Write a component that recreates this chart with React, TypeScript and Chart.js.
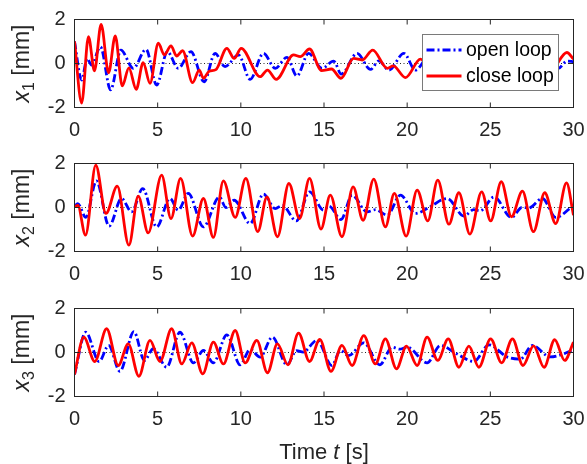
import React, { useEffect, useRef } from "react";
import { Chart, registerables } from "chart.js";

Chart.register(...registerables);

// ---------------- data ----------------
const xTickValues = [0, 5, 10, 15, 20, 25, 30];
const yTickValues = [-2, 0, 2];
const seriesNames = ["open loop", "close loop"];
const yLabelSubs = ["1", "2", "3"];

// x1
const x1CloseT = [0, 0.43, 0.84, 1.2, 1.6, 2.05, 2.45, 2.87, 3.27, 3.71, 4.13, 4.54, 5.04, 5.4, 5.8, 6.14, 6.5, 7.1, 7.5, 7.75, 8.1, 8.5, 9.16, 9.6, 10.02, 11.16, 11.6, 12.13, 13.17, 13.57, 14.13, 14.85, 15.45, 16.02, 16.78, 17.3, 17.93, 18.8, 19.16, 19.9, 20.8, 21.5, 22.3, 23.2, 24.1, 25.0, 25.9, 26.8, 27.7, 28.6, 29.6, 30];
const x1CloseY = [1.0, -1.8, 1.22, -0.33, 1.78, -0.42, 1.25, -1.02, -0.2, -1.17, 0.04, -0.9, 0.92, 0.39, 0.8, 0.34, 0.58, -0.87, -0.3, -0.67, -0.35, -0.28, 0.69, 0.23, 0.69, -0.6, -0.3, -0.72, 0.39, 0.31, 0.66, -0.32, -0.25, -0.67, 0.23, 0.16, 0.61, -0.22, -0.11, -0.64, 0.2, -0.3, 0.4, -0.4, 0.3, -0.3, 0.35, -0.3, 0.3, -0.35, 0.5, 0.2];
const x1OpenT = [0, 0.43, 0.76, 1.02, 1.56, 2.17, 2.79, 3.53, 4.3, 4.94, 5.58, 6.24, 7.0, 7.79, 8.45, 9.05, 9.86, 10.56, 11.36, 12.07, 12.77, 13.37, 14.07, 14.88, 15.58, 16.04, 16.99, 17.79, 18.3, 18.9, 19.8, 20.5, 21.3, 22.2, 23.1, 24.0, 24.9, 25.8, 26.7, 27.6, 28.5, 29.1, 29.6, 30];
const x1OpenY = [1.0, -0.75, 0.23, -0.07, 0.76, -1.2, 0.61, -0.22, 0.64, -0.98, 0.54, -0.22, 0.54, -0.83, 0.46, -0.14, 0.39, -0.72, 0.46, -0.22, 0.28, -0.57, 0.46, -0.22, 0.11, -0.48, 0.46, -0.27, 0.12, -0.3, 0.46, -0.3, 0.3, -0.3, 0.35, -0.3, 0.3, -0.35, 0.3, -0.3, 0.25, -0.22, 0.11, 0.08];

// x2
const x2CloseT = [0, 0.2, 0.66, 1.28, 1.89, 2.57, 3.27, 3.83, 4.43, 5.24, 5.8, 6.38, 7.1, 7.75, 8.35, 8.95, 9.66, 10.3, 11.02, 11.57, 12.2, 12.89, 13.53, 14.13, 14.82, 15.38, 16.08, 16.75, 17.35, 17.99, 18.69, 19.23, 19.94, 20.6, 21.24, 21.84, 22.51, 23.11, 23.77, 24.48, 25.02, 25.66, 26.27, 26.93, 27.59, 28.27, 28.93, 29.58, 30];
const x2CloseY = [0.03, 0.1, -1.26, 1.92, -0.27, 0.97, -1.71, 0.52, -1.15, 1.47, -0.5, 1.32, -1.3, 0.41, -1.36, 1.21, -0.45, 1.32, -1.1, 0.48, -1.33, 1.09, -0.5, 1.32, -0.98, 0.56, -1.33, 0.94, -0.58, 1.29, -0.88, 0.64, -1.3, 0.79, -0.61, 1.24, -0.76, 0.67, -1.21, 0.71, -0.61, 1.17, -0.42, 0.74, -1.1, 0.67, -0.73, 1.12, -0.35];
const x2OpenT = [0, 0.2, 0.68, 1.32, 2.08, 2.83, 3.43, 4.1, 4.94, 5.74, 6.24, 6.84, 7.75, 8.71, 9.1, 9.6, 10.56, 11.36, 12.07, 12.5, 13.33, 14.13, 14.98, 15.3, 16.02, 16.69, 17.59, 18.1, 18.8, 19.6, 20.5, 21.3, 22.41, 23.41, 24.0, 24.4, 25.22, 26.27, 26.9, 27.3, 28.13, 28.93, 30];
const x2OpenY = [0.06, 0.18, -0.45, 1.21, -0.85, 0.41, -0.2, 0.86, -0.88, 0.41, -0.12, 0.64, -0.88, 0.48, 0, 0.33, -0.73, 0.61, -0.05, 0.1, -0.61, 0.71, -0.12, 0.06, -0.55, 0.56, -0.2, -0.1, -0.35, 0.56, -0.27, 0.0, 0.41, -0.39, -0.1, -0.15, 0.48, -0.45, 0.0, -0.02, 0.41, -0.45, 0.1];

// x3
const x3CloseT = [0, 0.56, 1.22, 1.93, 2.63, 3.23, 3.87, 4.54, 5.14, 5.84, 6.45, 7.05, 7.71, 8.35, 8.95, 9.66, 10.26, 10.96, 11.6, 12.2, 12.83, 13.47, 14.13, 14.75, 15.42, 16.08, 16.69, 17.39, 18.09, 18.69, 19.36, 19.96, 20.6, 21.2, 21.84, 22.47, 23.11, 23.71, 24.31, 25.02, 25.68, 26.33, 26.96, 27.6, 28.23, 28.87, 29.47, 30];
const x3CloseY = [-1.0, 0.7, -0.41, 1.08, -0.59, 0.39, -1.08, 0.55, -0.41, 1.08, -0.52, 0.44, -0.97, 0.47, -0.52, 1.0, -0.47, 0.55, -0.92, 0.39, -0.56, 0.88, -0.41, 0.6, -0.86, 0.32, -0.59, 0.77, -0.52, 0.62, -0.74, 0.29, -0.59, 0.7, -0.36, 0.62, -0.67, 0.29, -0.67, 0.62, -0.47, 0.62, -0.59, 0.3, -0.67, 0.58, -0.36, 0.47];
const x3OpenT = [0, 0.68, 1.48, 2.05, 2.73, 3.57, 4.2, 4.74, 5.54, 6.34, 7.15, 7.75, 8.35, 9.16, 9.96, 10.56, 11.16, 11.9, 12.77, 13.35, 13.75, 14.58, 15.48, 15.98, 16.48, 17.39, 18.35, 19.1, 19.55, 20.0, 21.2, 22.0, 22.98, 24.0, 24.92, 26.0, 26.8, 27.53, 28.6, 30];
const x3OpenY = [-1.0, 0.92, -0.41, 0.32, -0.86, 0.95, -0.36, 0.17, -0.67, 0.92, -0.47, 0.09, -0.47, 0.8, -0.56, 0.14, -0.21, 0.7, -0.56, 0.08, 0.02, 0.55, -0.59, 0.09, -0.14, 0.44, -0.56, 0.24, 0.15, 0.24, -0.47, 0.32, -0.06, -0.41, 0.35, -0.2, -0.3, 0.32, -0.2, 0.1];

// ---------------- styling / layout ----------------
const W = 587;
const PLOT_LEFT = 74.5;
const PLOT_RIGHT = 573.5;
const FONT = '"Liberation Sans", Arial, Helvetica, sans-serif';
const AX = "#262626";
const RED = "#FF0000";
const BLUE = "#0000FF";
const LINE_W = 2.8;
const BLUE_DASH = [8, 3, 2, 3];

type Panel = {
  top: number;
  height: number;
  padTop: number;
  xHeight: number;
  closeT: number[]; closeY: number[];
  openT: number[]; openY: number[];
  sub: string;
  legend: boolean;
  xLabel: boolean;
};

const panels: Panel[] = [
  { top: 0, height: 145, padTop: 19.5, xHeight: 37.5, closeT: x1CloseT, closeY: x1CloseY, openT: x1OpenT, openY: x1OpenY, sub: yLabelSubs[0], legend: true, xLabel: false },
  { top: 145, height: 145, padTop: 18.5, xHeight: 38.5, closeT: x2CloseT, closeY: x2CloseY, openT: x2OpenT, openY: x2OpenY, sub: yLabelSubs[1], legend: false, xLabel: false },
  { top: 290, height: 174, padTop: 18.5, xHeight: 67.5, closeT: x3CloseT, closeY: x3CloseY, openT: x3OpenT, openY: x3OpenY, sub: yLabelSubs[2], legend: false, xLabel: true },
];

const toPts = (t: number[], y: number[]) => t.map((v, i) => ({ x: v, y: y[i] }));

function decorPlugin(p: Panel) {
  return {
    id: "decor",
    beforeDatasetsDraw(chart: any) {
      const { ctx, chartArea: a, scales } = chart;
      const y0 = scales.y.getPixelForValue(0);
      ctx.save();
      ctx.strokeStyle = AX;
      ctx.lineWidth = 1;
      ctx.setLineDash([1, 2.5]);
      ctx.beginPath();
      ctx.moveTo(a.left, y0);
      ctx.lineTo(a.right, y0);
      ctx.stroke();
      ctx.restore();
    },
    afterDatasetsDraw(chart: any) {
      const { ctx, chartArea: a, scales } = chart;
      ctx.save();
      ctx.strokeStyle = AX;
      ctx.lineWidth = 1;
      ctx.setLineDash([]);
      ctx.strokeRect(a.left, a.top, a.right - a.left, a.bottom - a.top);
      ctx.beginPath();
      xTickValues.forEach((v) => {
        const x = scales.x.getPixelForValue(v);
        ctx.moveTo(x, a.bottom); ctx.lineTo(x, a.bottom - 5);
        ctx.moveTo(x, a.top); ctx.lineTo(x, a.top + 5);
      });
      yTickValues.forEach((v) => {
        const y = scales.y.getPixelForValue(v);
        ctx.moveTo(a.left, y); ctx.lineTo(a.left + 5, y);
        ctx.moveTo(a.right, y); ctx.lineTo(a.right - 5, y);
      });
      ctx.stroke();

      // y label: x_n [mm]
      const big = 23;
      const small = 16;
      ctx.fillStyle = AX;
      ctx.textBaseline = "alphabetic";
      ctx.textAlign = "left";
      ctx.font = `italic ${big}px ${FONT}`;
      const wX = ctx.measureText("x").width;
      ctx.font = `${small}px ${FONT}`;
      const wS = ctx.measureText(p.sub).width;
      ctx.font = `${big}px ${FONT}`;
      const wR = ctx.measureText(" [mm]").width;
      const total = wX + wS + wR;
      const cy = (a.top + a.bottom) / 2;
      ctx.translate(28.5, cy);
      ctx.rotate(-Math.PI / 2);
      let cx = -total / 2;
      ctx.font = `italic ${big}px ${FONT}`;
      ctx.fillText("x", cx, 0);
      cx += wX;
      ctx.font = `${small}px ${FONT}`;
      ctx.fillText(p.sub, cx, 5);
      cx += wS;
      ctx.font = `${big}px ${FONT}`;
      ctx.fillText(" [mm]", cx, 0);
      ctx.restore();

      if (p.xLabel) {
        ctx.save();
        const fs = 22;
        ctx.fillStyle = AX;
        ctx.textBaseline = "alphabetic";
        ctx.textAlign = "left";
        ctx.font = `${fs}px ${FONT}`;
        const w1 = ctx.measureText("Time ").width;
        const w3 = ctx.measureText(" [s]").width;
        ctx.font = `italic ${fs}px ${FONT}`;
        const w2 = ctx.measureText("t").width;
        const tot = w1 + w2 + w3;
        let x = (a.left + a.right) / 2 - tot / 2;
        const by = 459 - p.top;
        ctx.font = `${fs}px ${FONT}`;
        ctx.fillText("Time ", x, by);
        x += w1;
        ctx.font = `italic ${fs}px ${FONT}`;
        ctx.fillText("t", x, by);
        x += w2;
        ctx.font = `${fs}px ${FONT}`;
        ctx.fillText(" [s]", x, by);
        ctx.restore();
      }

      if (p.legend) {
        ctx.save();
        const bx = 422.5, byy = 34.5, bw = 136, bh = 56;
        ctx.fillStyle = "#FFFFFF";
        ctx.fillRect(bx, byy, bw, bh);
        ctx.strokeStyle = "#7a7a7a";
        ctx.lineWidth = 1;
        ctx.strokeRect(bx, byy, bw, bh);
        const rows = [
          { y: 50, color: BLUE, dash: BLUE_DASH, label: seriesNames[0] },
          { y: 76, color: RED, dash: [] as number[], label: seriesNames[1] },
        ];
        rows.forEach((r) => {
          ctx.strokeStyle = r.color;
          ctx.lineWidth = LINE_W;
          ctx.setLineDash(r.dash);
          ctx.beginPath();
          ctx.moveTo(426.5, r.y);
          ctx.lineTo(461.5, r.y);
          ctx.stroke();
          ctx.setLineDash([]);
          ctx.fillStyle = "#000000";
          ctx.font = `19.5px ${FONT}`;
          ctx.textAlign = "left";
          ctx.textBaseline = "middle";
          ctx.fillText(r.label, 466, r.y + 1);
        });
        ctx.restore();
      }
    },
  };
}

function PanelChart({ p }: { p: Panel }) {
  const ref = useRef<HTMLCanvasElement | null>(null);
  useEffect(() => {
    if (!ref.current) return;
    const chart = new Chart(ref.current, {
      type: "line",
      data: {
        datasets: [
          {
            label: seriesNames[1],
            data: toPts(p.closeT, p.closeY),
            borderColor: RED,
            borderWidth: LINE_W,
            pointRadius: 0,
            fill: false,
            cubicInterpolationMode: "monotone",
          },
          {
            label: seriesNames[0],
            data: toPts(p.openT, p.openY),
            borderColor: BLUE,
            borderWidth: LINE_W,
            borderDash: BLUE_DASH,
            pointRadius: 0,
            fill: false,
            cubicInterpolationMode: "monotone",
          },
        ],
      } as any,
      options: {
        responsive: false,
        animation: false,
        events: [],
        layout: { padding: { left: 0, right: W - PLOT_RIGHT, top: p.padTop, bottom: 0 } },
        plugins: { legend: { display: false }, tooltip: { enabled: false } },
        scales: {
          x: {
            type: "linear",
            min: 0,
            max: 30,
            grid: { display: false, drawTicks: false },
            border: { display: false },
            ticks: {
              stepSize: 5,
              autoSkip: false,
              maxRotation: 0,
              padding: 13,
              color: AX,
              font: { family: FONT, size: 20, lineHeight: 1 },
            },
            afterFit: (s: any) => {
              s.height = p.xHeight;
              s.paddingLeft = 0;
              s.paddingRight = 0;
            },
          },
          y: {
            type: "linear",
            min: -2,
            max: 2,
            grid: { display: false, drawTicks: false },
            border: { display: false },
            ticks: {
              stepSize: 2,
              padding: 9,
              color: AX,
              font: { family: FONT, size: 20, lineHeight: 1 },
            },
            afterFit: (s: any) => {
              s.width = PLOT_LEFT;
              s.paddingTop = 0;
              s.paddingBottom = 0;
            },
          },
        },
      } as any,
      plugins: [decorPlugin(p)],
    });
    return () => chart.destroy();
  }, [p]);
  return (
    <canvas
      ref={ref}
      width={W}
      height={p.height}
      style={{ position: "absolute", left: 0, top: p.top, width: W, height: p.height, display: "block" }}
    />
  );
}

export default function App() {
  return (
    <div style={{ position: "fixed", left: 0, top: 0, width: W, height: 464, background: "#fff" }}>
      {panels.map((p, i) => (
        <PanelChart key={i} p={p} />
      ))}
    </div>
  );
}
